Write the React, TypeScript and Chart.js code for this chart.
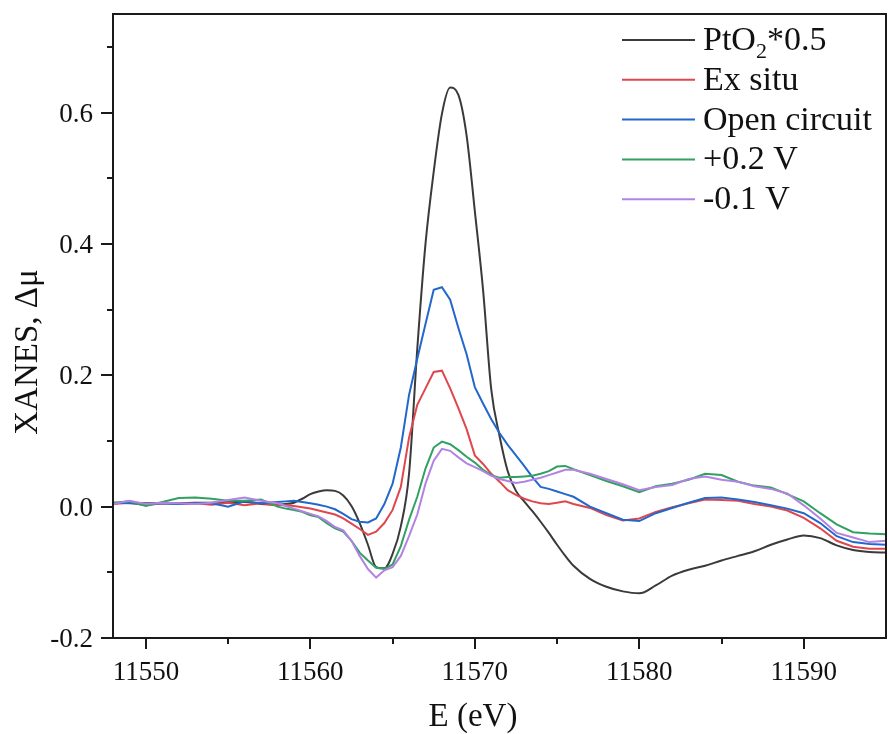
import React, { useEffect, useRef } from 'react';
import { Chart, registerables } from 'chart.js';

Chart.register(...registerables);

const energy = [
  11548, 11549, 11550, 11551, 11552, 11553, 11554, 11555, 11556, 11557,
  11558, 11558.5, 11559, 11559.5, 11560, 11560.5, 11561, 11561.5, 11562, 11562.5,
  11563, 11563.5, 11564, 11564.5, 11565, 11565.5, 11566, 11566.5, 11567, 11567.5,
  11568, 11568.5, 11569, 11569.5, 11570, 11570.5, 11571, 11571.5, 11572, 11572.5,
  11573, 11573.5, 11574, 11574.5, 11575, 11575.5, 11576,
  11577, 11578, 11579, 11580, 11581, 11582, 11583, 11584, 11585, 11586, 11587, 11588, 11589, 11590, 11591, 11592, 11593, 11594, 11595,
];

const ptO2 = [
  0.005, 0.006, 0.005, 0.005, 0.005, 0.006, 0.006, 0.007, 0.007, 0.004,
  0.003, 0.004, 0.006, 0.012, 0.019, 0.023, 0.025, 0.024, 0.017, 0.001,
  -0.025, -0.058, -0.092, -0.094, -0.072, -0.03, 0.05, 0.24, 0.4, 0.51,
  0.598, 0.638, 0.627, 0.565, 0.45, 0.33, 0.178, 0.108, 0.054, 0.024,
  0.008, -0.007, -0.023, -0.04, -0.058, -0.075, -0.09,
  -0.11, -0.122, -0.129, -0.132, -0.12, -0.105, -0.096, -0.09, -0.082, -0.075, -0.068, -0.058, -0.05, -0.044, -0.048, -0.059, -0.066, -0.069, -0.07,
];

const exSitu = [
  0.004, 0.006, 0.002, 0.005, 0.004, 0.005, 0.003, 0.006, 0.002, 0.005,
  0.002, 0.002, 0.001, -0.001, -0.003, -0.006, -0.009, -0.012, -0.018, -0.026,
  -0.034, -0.043, -0.038, -0.025, -0.005, 0.03, 0.105, 0.155, 0.18, 0.205,
  0.207, 0.18, 0.15, 0.118, 0.078, 0.065, 0.05, 0.038, 0.025, 0.018,
  0.012, 0.008, 0.005, 0.004, 0.006, 0.008, 0.004,
  -0.002, -0.013, -0.021, -0.018, -0.008, -0.001, 0.005, 0.011, 0.01, 0.009, 0.004, 0.0, -0.006, -0.017, -0.033, -0.052, -0.061, -0.064, -0.064,
];

const openCircuit = [
  0.006, 0.005, 0.004, 0.005, 0.004, 0.005, 0.005, 0.0, 0.008, 0.005,
  0.007, 0.008, 0.009, 0.007, 0.005, 0.003, 0.0, -0.004, -0.011, -0.019,
  -0.023, -0.024, -0.018, 0.004, 0.035, 0.09, 0.17, 0.225, 0.278, 0.33,
  0.334, 0.315, 0.272, 0.232, 0.182, 0.157, 0.133, 0.112, 0.094, 0.078,
  0.062, 0.045, 0.03, 0.027, 0.023, 0.019, 0.015,
  0.0, -0.01, -0.02, -0.022, -0.01, -0.002, 0.006, 0.013, 0.014, 0.011, 0.007, 0.002, -0.003, -0.01, -0.025, -0.045, -0.054, -0.057, -0.058,
];

const plus02V = [
  0.006, 0.008, 0.001, 0.007, 0.013, 0.014, 0.012, 0.009, 0.009, 0.011,
  0.0, -0.003, -0.005, -0.008, -0.013, -0.016, -0.025, -0.033, -0.038, -0.052,
  -0.07, -0.082, -0.093, -0.095, -0.088, -0.06, -0.02, 0.015, 0.058, 0.09,
  0.099, 0.095, 0.086, 0.076, 0.067, 0.056, 0.048, 0.044, 0.045, 0.045,
  0.046, 0.047, 0.05, 0.054, 0.061, 0.062, 0.057,
  0.048, 0.039, 0.031, 0.022, 0.031, 0.035, 0.041, 0.05, 0.048, 0.038, 0.032, 0.029, 0.019, 0.008, -0.01, -0.027, -0.039, -0.041, -0.042,
];

const minus01V = [
  0.004, 0.009, 0.004, 0.006, 0.005, 0.004, 0.006, 0.01, 0.014, 0.009,
  0.005, 0.001, -0.003, -0.007, -0.011, -0.015, -0.022, -0.031, -0.036, -0.052,
  -0.075, -0.095, -0.108, -0.097, -0.092, -0.075, -0.045, -0.012, 0.035, 0.07,
  0.088, 0.085, 0.075, 0.066, 0.06, 0.054, 0.047, 0.042, 0.039, 0.036,
  0.038, 0.041, 0.044, 0.048, 0.052, 0.056, 0.056,
  0.05, 0.042, 0.034, 0.025, 0.03, 0.033, 0.042, 0.046, 0.041, 0.038, 0.031, 0.027, 0.02, 0.002, -0.018, -0.04, -0.047, -0.054, -0.052,
];

const seriesNames = ['PtO2*0.5', 'Ex situ', 'Open circuit', '+0.2 V', '-0.1 V'];
const seriesColors = ['#3a3a3a', '#e0474c', '#2268cc', '#31a060', '#b383e3'];
const seriesValues = [ptO2, exSitu, openCircuit, plus02V, minus01V];

const xTickValues = [11550, 11560, 11570, 11580, 11590];
const xTickLabels = ['11550', '11560', '11570', '11580', '11590'];
const yTickValues = [-0.2, 0, 0.2, 0.4, 0.6];
const yTickLabels = ['-0.2', '0.0', '0.2', '0.4', '0.6'];

const xTitle = 'E (eV)';
const yTitle = 'XANES, \u0394\u03bc';

const SERIF = "'Liberation Serif', 'Times New Roman', 'DejaVu Serif', serif";

const decorPlugin = {
  id: 'decor',
  afterDraw(chart: any) {
    const ctx: CanvasRenderingContext2D = chart.ctx;
    const { left, right, top, bottom } = chart.chartArea;
    const xs = chart.scales.x;
    const ys = chart.scales.y;
    ctx.save();
    ctx.strokeStyle = '#1a1a1a';
    ctx.lineWidth = 2;
    ctx.strokeRect(left, top, right - left, bottom - top);
    ctx.beginPath();
    for (let v = 11550; v < 11595; v += 5) {
      const px = Math.round(xs.getPixelForValue(v));
      const len = v % 10 === 0 ? 11 : 6;
      ctx.moveTo(px, bottom);
      ctx.lineTo(px, bottom + len);
    }
    for (let k = -2; k <= 7; k++) {
      const py = Math.round(ys.getPixelForValue(k / 10));
      const len = k % 2 === 0 ? 12 : 6;
      ctx.moveTo(left - len, py);
      ctx.lineTo(left, py);
    }
    ctx.stroke();

    // tick labels
    ctx.fillStyle = '#111';
    ctx.font = `27px ${SERIF}`;
    ctx.textBaseline = 'alphabetic';
    ctx.textAlign = 'center';
    xTickValues.forEach((v, i) => {
      ctx.fillText(xTickLabels[i], xs.getPixelForValue(v), bottom + 42);
    });
    ctx.textAlign = 'right';
    yTickValues.forEach((v, i) => {
      ctx.fillText(yTickLabels[i], left - 20, ys.getPixelForValue(v) + 9);
    });

    // axis titles
    ctx.font = `33px ${SERIF}`;
    ctx.textAlign = 'center';
    ctx.fillText(xTitle, 473, 726);
    ctx.save();
    ctx.translate(37, 352);
    ctx.rotate(-Math.PI / 2);
    ctx.fillText(yTitle, 0, 0);
    ctx.restore();

    // legend
    const lx0 = 622;
    const lx1 = 695;
    const tx = 703;
    const ly0 = 40;
    const dy = 39.8;
    ctx.textAlign = 'left';
    seriesNames.forEach((name, i) => {
      const y = ly0 + i * dy;
      ctx.strokeStyle = seriesColors[i];
      ctx.lineWidth = 2;
      ctx.beginPath();
      ctx.moveTo(lx0, y);
      ctx.lineTo(lx1, y);
      ctx.stroke();
      ctx.fillStyle = '#111';
      const base = y + 10;
      if (name.startsWith('PtO2')) {
        ctx.font = `34px ${SERIF}`;
        ctx.fillText('PtO', tx, base);
        let x = tx + ctx.measureText('PtO').width;
        ctx.font = `22px ${SERIF}`;
        ctx.fillText('2', x, base + 8);
        x += ctx.measureText('2').width;
        ctx.font = `34px ${SERIF}`;
        ctx.fillText(name.slice(4), x, base);
      } else {
        ctx.font = `34px ${SERIF}`;
        ctx.fillText(name, tx, base);
      }
    });
    ctx.restore();
  },
};

export default function App() {
  const ref = useRef<HTMLCanvasElement>(null);
  useEffect(() => {
    const datasets = seriesNames.map((name, i) => ({
      label: name,
      data: energy.map((e, j) => ({ x: e, y: seriesValues[i][j] })),
      borderColor: seriesColors[i],
      backgroundColor: seriesColors[i],
      borderWidth: 2,
      pointRadius: 0,
      tension: 0,
      cubicInterpolationMode: i === 0 ? ('monotone' as const) : ('default' as const),
      fill: false,
      order: 5 - i,
    }));
    const chart = new Chart(ref.current as HTMLCanvasElement, {
      type: 'line',
      data: { datasets },
      plugins: [decorPlugin],
      options: {
        animation: false,
        responsive: false,
        layout: { padding: { top: 14, right: 2, left: 0, bottom: 0 } },
        plugins: { legend: { display: false }, tooltip: { enabled: false } },
        scales: {
          x: {
            type: 'linear',
            min: 11548,
            max: 11595,
            border: { display: false },
            grid: { display: false, drawTicks: false },
            ticks: { display: false, stepSize: 5 },
            afterFit: (s: any) => {
              s.height = 96;
            },
          },
          y: {
            type: 'linear',
            min: -0.2,
            max: 0.75,
            border: { display: false },
            grid: { display: false, drawTicks: false },
            ticks: { display: false, stepSize: 0.1 },
            afterFit: (s: any) => {
              s.width = 113;
            },
          },
        },
      },
    });
    return () => chart.destroy();
  }, []);
  return (
    <canvas
      ref={ref}
      width={888}
      height={734}
      style={{ position: 'absolute', left: 0, top: 0, width: 888, height: 734, display: 'block' }}
    />
  );
}
